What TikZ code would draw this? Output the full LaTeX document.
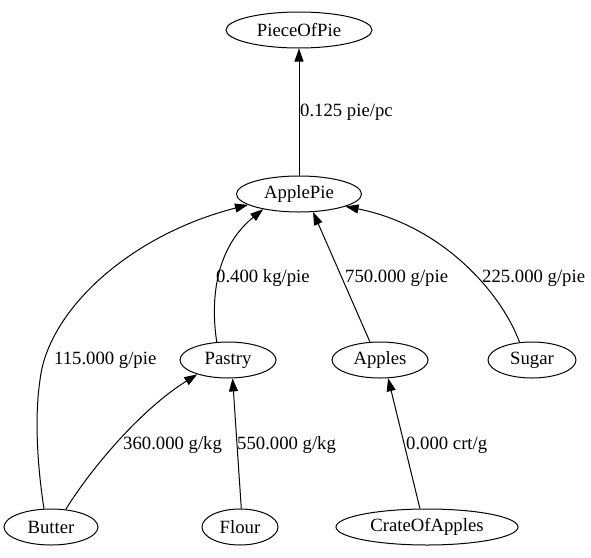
\documentclass[tikz,border=0pt]{standalone}
\usepackage{fontspec}
\setmainfont{Liberation Serif}
\usetikzlibrary{shapes.geometric,arrows.meta}

\begin{document}
\begin{tikzpicture}
[
	x=1pt, y=-1pt,
	item/.style={ellipse,draw,line width=1pt,minimum height=36pt,inner sep=0pt,font=\fontsize{18.7}{22}\selectfont},
	rate/.style={anchor=west,inner sep=0pt,font=\fontsize{18.7}{22}\selectfont},
	flow/.style={line width=1pt,-{Triangle[length=13pt,width=9pt]}}
]
	\useasboundingbox (0,0) rectangle (591,557);

	% items
	\node[item,minimum width=146pt] (piece) at (299,30) {PieceOfPie};
	\node[item,minimum width=125pt] (applepie) at (299,194) {ApplePie};
	\node[item,minimum width=96pt] (pastry) at (228,360) {Pastry};
	\node[item,minimum width=96pt] (apples) at (380,360) {Apples};
	\node[item,minimum width=88pt] (sugar) at (532,360) {Sugar};
	\node[item,minimum width=94pt] (butter) at (51,527) {Butter};
	\node[item,minimum width=76pt] (flour) at (240,527) {Flour};
	\node[item,minimum width=182pt] (crate) at (427,527) {CrateOfApples};

	% flows
	\draw[flow] (applepie) -- (piece);
	\draw[flow] (pastry.122) .. controls (211,305) and (213,250) .. (applepie.203);
	\draw[flow] (apples.119) -- (applepie.308);
	\draw[flow] (sugar.125) .. controls (500,290) and (440,225) .. (applepie.345);
	\draw[flow] (butter.111) .. controls (38,470) and (34,420) .. (40,380)
		.. controls (48,310) and (130,235) .. (applepie.192);
	\draw[flow] (butter.50) .. controls (90,470) and (140,410) .. (pastry.205);
	\draw[flow] (flour.86) -- (pastry.284);
	\draw[flow] (crate.111) -- (apples.294);

	% rates
	\node[rate] (r1) at (300,112) {0.125 pie/pc};
	\node[rate] (r2) at (216,278) {0.400 kg/pie};
	\node[rate] (r3) at (345,278) {750.000 g/pie};
	\node[rate] (r4) at (482,278) {225.000 g/pie};
	\node[rate] (r5) at (54,360) {115.000 g/pie};
	\node[rate] (r6) at (123,445) {360.000 g/kg};
	\node[rate] (r7) at (237,445) {550.000 g/kg};
	\node[rate] (r8) at (406,445) {0.000 crt/g};

\end{tikzpicture}
\end{document}
